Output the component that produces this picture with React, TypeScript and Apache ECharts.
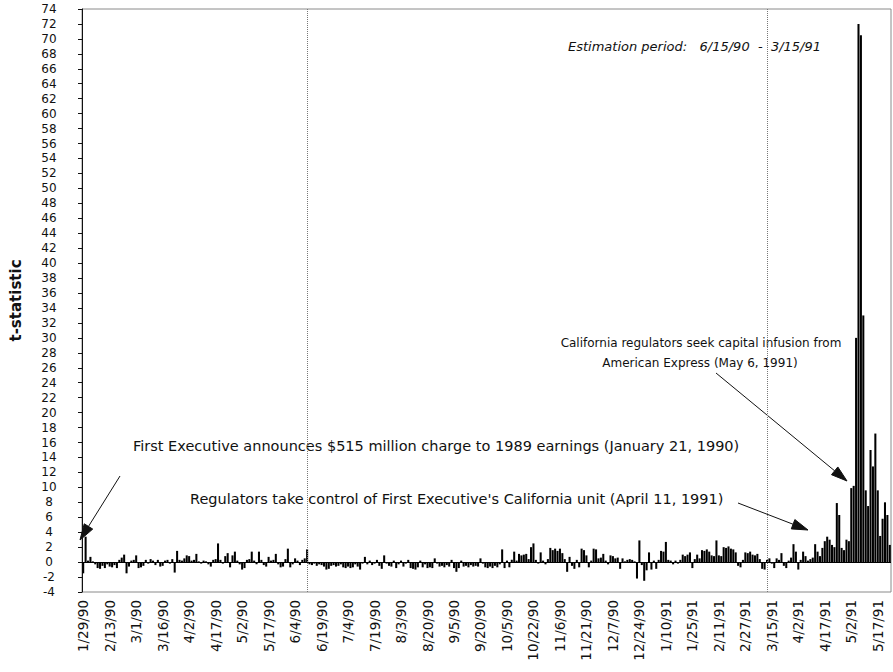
import React, { useEffect, useRef } from 'react';
import * as echarts from 'echarts';

const tickLabels = [
  '1/29/90', '2/13/90', '3/1/90', '3/16/90', '4/2/90', '4/17/90', '5/2/90', '5/17/90',
  '6/4/90', '6/19/90', '7/4/90', '7/19/90', '8/3/90', '8/20/90', '9/5/90', '9/20/90',
  '10/5/90', '10/22/90', '11/6/90', '11/21/90', '12/7/90', '12/24/90', '1/10/91',
  '1/25/91', '2/11/91', '2/27/91', '3/15/91', '4/2/91', '4/17/91', '5/2/91', '5/17/91',
];
const LABEL_STEP = 11;

// daily t-statistics
const tStatJan90toJun90 = [
  -1.5, 3.4, 0.2, 0.7, 0.1, -0.3, -0.8, -0.9, -0.5, -0.8,
  -0.3, -0.6, -0.7, -0.4, -0.8, 0.3, 0.6, 1.0, -1.5, -0.6,
  0.2, 0.3, 0.9, -0.8, -0.7, -0.5, 0.3, -0.2, 0.4, 0.2,
  -0.4, 0.3, -0.6, -0.5, 0.2, 0.3, -0.2, 0.4, -1.4, 1.5,
  0.3, 0.2, 0.5, 0.9, 0.8, 0.2, 0.3, 1.1, 0.1, -0.2,
  0.2, 0.1, -0.3, -0.6, 0.3, 0.4, 2.5, 0.3, -0.2, 0.8,
  1.2, -0.7, 0.9, 1.4, 0.2, -0.3, -1.0, -0.8, 0.3, 0.4,
  1.4, 0.2, -0.3, 1.4, 0.3, -0.4, -0.6, 0.7, 0.2, 0.3,
  1.1, -0.3, -0.7, -0.6, 0.4, 1.8, -0.7, -0.3, 0.5, 0.2,
  -0.4, 0.3, 0.5, 1.7,
];
const tStatJun90toOct90 = [
  -0.3, -0.4, -0.2, -0.5, -0.3, -0.4, -0.6, -1.0, -0.9, -0.5,
  -0.4, -0.6, -0.5, -0.3, -0.7, -0.8, -0.6, -0.8, -0.7, -0.3,
  -0.6, -1.0, -0.2, 0.7, -0.3, 0.2, -0.4, -0.2, 0.3, -0.5,
  -0.9, 0.9, -0.2, -0.5, -0.6, 0.2, -0.8, -0.3, 0.2, -0.6,
  -0.2, 0.3, -0.8, -0.9, -1.0, -0.7, 0.2, -0.7, -0.3, -0.8,
  -0.7, -0.8, 0.5, -0.2, -0.6, -0.5, -0.7, -0.4, -0.6, 0.3,
  -0.8, -1.3, -0.8, 0.2, -0.6, -0.5, -0.7, -0.4, -0.6, -0.5,
  -0.6, 0.5, -0.2, -0.7, -0.8, -0.6, -0.8, -0.5, -0.7, -0.3,
  1.7, -0.8, 0.2, -0.7, 0.3, 1.4, 0.2, 1.1, 0.9, 1.0,
  1.1, 0.4, 2.0, 2.5,
];
const tStatOct90toMar91 = [
  0.3, -0.2, 1.3, 0.2, -0.3, 0.4, 1.9, 1.6, 1.8, 1.5,
  1.8, 1.2, 0.4, -1.3, 0.7, -0.5, -0.9, 0.3, -0.7, 1.8,
  1.6, 0.9, -0.7, 0.2, 1.8, 1.7, 0.5, 0.6, 1.1, 0.2,
  -0.3, 0.9, 0.8, 0.5, 0.6, -0.9, 0.5, 0.1, 0.3, 0.4,
  0.3, 0.1, -2.2, 2.9, -0.4, -2.5, -1.1, 1.3, -1.0, 0.2,
  -0.9, 0.3, 1.5, 1.4, 2.7, 0.3, 0.2, -0.3, 0.2, -0.2,
  0.3, 1.0, 0.8, 1.0, 1.3, -0.8, 0.4, 1.0, 0.5, 1.6,
  1.5, 1.7, 1.4, 0.9, 0.8, 2.9, 0.9, 0.8, 2.0, 1.9,
  2.1, 1.8, 1.7, 1.3, -0.5, -0.7, 0.3, 1.3, 1.2, 1.4,
  1.0, 0.9, 1.1, 0.4,
];
const tStatMar91toMay91 = [
  -0.9, -1.0, 0.3, 0.5, -0.2, -0.8, 0.5, 0.3, 1.2, -0.5,
  -0.8, 0.2, 0.6, 2.4, 1.4, -1.0, 0.3, 1.4, 0.8, 0.2,
  0.4, 0.6, 2.4, 1.4, 0.8, 1.9, 2.8, 3.4, 3.0, 2.3,
  2.0, 7.9, 6.3, 1.9, 1.6, 3.0, 2.8, 9.9, 10.2, 30.0,
  72.0, 70.5, 33.0, 9.6, 7.5, 15.0, 12.8, 17.2, 9.6, 3.5,
  5.8, 8.0, 6.3, 2.3,
];
const tStatistic = [...tStatJan90toJun90, ...tStatJun90toOct90, ...tStatOct90toMar91, ...tStatMar91toMay91];
const categories = tStatistic.map((_, i) => String(i));
const estimationStartIndex = 93;
const estimationEndIndex = 284;

const INK = '#111111';
const FONT = '"DejaVu Sans", "Liberation Sans", Arial, sans-serif';

function arrow(x1: number, y1: number, x2: number, y2: number) {
  const dx = x2 - x1;
  const dy = y2 - y1;
  const len = Math.sqrt(dx * dx + dy * dy);
  const ux = dx / len;
  const uy = dy / len;
  const L = 16;
  const W = 5;
  const bx = x2 - ux * L;
  const by = y2 - uy * L;
  return [
    { type: 'line', silent: true, shape: { x1, y1, x2: bx, y2: by }, style: { stroke: INK, lineWidth: 1 } },
    {
      type: 'polygon', silent: true,
      shape: { points: [[x2, y2], [bx - uy * W, by + ux * W], [bx + uy * W, by - ux * W]] },
      style: { fill: INK, stroke: INK, lineWidth: 1 },
    },
  ];
}

function label(text: string, x: number, y: number, align: string, font: string) {
  return {
    type: 'text', silent: true, x, y,
    style: { text, font, fill: INK, align, verticalAlign: 'middle', textAlign: align, textVerticalAlign: 'middle' },
  };
}

export default function App() {
  const ref = useRef<HTMLDivElement>(null);
  useEffect(() => {
    const chart = echarts.init(ref.current!, null, { renderer: 'svg' });
    const annFont = `14.5px ${FONT}`;
    const calFont = `12px ${FONT}`;
    chart.setOption({
      animation: false,
      backgroundColor: '#ffffff',
      grid: { left: 75, right: 2, top: 9, bottom: 80, show: true, borderColor: '#8a8a8a', borderWidth: 1 },
      xAxis: {
        type: 'category',
        data: categories,
        axisLine: { show: false, onZero: false },
        axisTick: { show: false },
        axisLabel: {
          interval: LABEL_STEP - 1,
          rotate: 90,
          margin: 8,
          color: INK,
          fontFamily: FONT,
          fontSize: 13.5,
          formatter: (_v: string, i: number) => (i % LABEL_STEP === 0 ? tickLabels[i / LABEL_STEP] ?? '' : ''),
        },
        splitLine: { show: false },
      },
      yAxis: {
        type: 'value',
        min: -4,
        max: 74,
        interval: 2,
        name: 't-statistic',
        nameLocation: 'middle',
        nameRotate: 90,
        nameGap: 59,
        nameTextStyle: { fontFamily: FONT, fontWeight: 'bold', fontSize: 15, color: INK },
        axisLine: { show: true, lineStyle: { color: INK, width: 1 } },
        axisTick: { show: true, length: 4, lineStyle: { color: INK } },
        axisLabel: { align: 'center', margin: 33, color: INK, fontFamily: FONT, fontSize: 12 },
        splitLine: { show: false },
      },
      series: [
        {
          type: 'bar',
          data: tStatistic,
          barCategoryGap: '15%',
          itemStyle: { color: '#000000' },
          markLine: {
            silent: true,
            symbol: 'none',
            label: { show: false },
            data: [
              { yAxis: 0, lineStyle: { color: '#000000', width: 1, type: 'solid' } },
              { xAxis: estimationStartIndex, lineStyle: { color: '#777777', width: 1, type: 'dotted' } },
              { xAxis: estimationEndIndex, lineStyle: { color: '#777777', width: 1, type: 'dotted' } },
            ],
          },
        },
      ],
      graphic: [
        label('Estimation period:   6/15/90  -  3/15/91', 568, 46, 'left', `italic 13px ${FONT}`),
        label('First Executive announces $515 million charge to 1989 earnings (January 21, 1990)', 133, 446, 'left', annFont),
        label("Regulators take control of First Executive's California unit (April 11, 1991)", 190, 499, 'left', annFont),
        label('California regulators seek capital infusion from', 701, 343, 'center', calFont),
        label('American Express (May 6, 1991)', 700, 363, 'center', calFont),
        ...arrow(120, 476, 80, 540),
        ...arrow(738, 503, 808, 530),
        ...arrow(716, 373, 847, 481),
      ],
    });
    return () => chart.dispose();
  }, []);
  return <div ref={ref} style={{ position: 'fixed', left: 0, top: 0, width: 893, height: 672 }} />;
}
